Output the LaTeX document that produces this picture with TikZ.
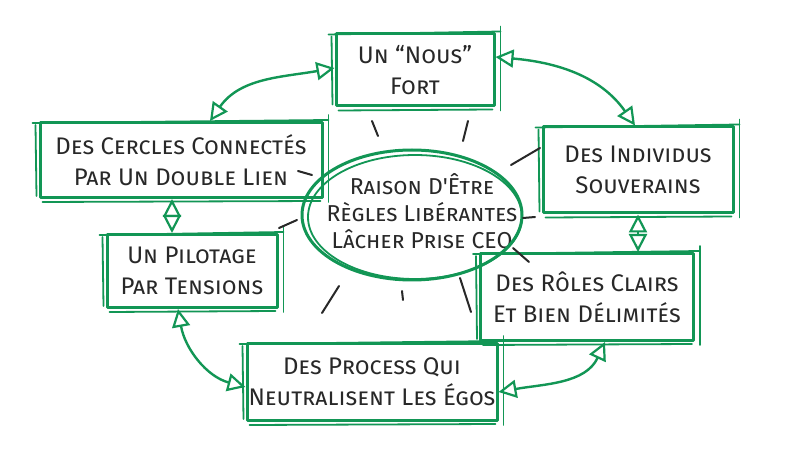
\documentclass[tikz,border=0pt]{standalone}
\usepackage{fontspec}
\newfontfamily\hand{Fira Sans}[Letters=SmallCaps]
\usetikzlibrary{arrows.meta,shapes.geometric,calc}
\definecolor{mkgreen}{RGB}{18,150,85}
\definecolor{ink}{RGB}{40,40,40}
\begin{document}
\begin{tikzpicture}[x=1pt,y=-1pt,
  mk/.style={draw=mkgreen, line width=3pt, line cap=round, line join=round},
  mkthin/.style={draw=mkgreen, line width=1.8pt, line cap=round},
  txt/.style={font=\hand\fontsize{24}{31}\selectfont, text=ink, align=center},
  box/.style={mk, rectangle, txt, inner sep=0pt,
    append after command={
      ([shift={(-6pt,-2pt)}]\tikzlastnode.north west) edge[mkthin] ([shift={(5pt,1pt)}]\tikzlastnode.north east)
      ([shift={(5pt,6pt)}]\tikzlastnode.north east) edge[mkthin] ([shift={(5pt,-3pt)}]\tikzlastnode.south east)
      ([shift={(4pt,-3pt)}]\tikzlastnode.south west) edge[mkthin] ([shift={(-3pt,-2pt)}]\tikzlastnode.south east)
      ([shift={(-3pt,-4pt)}]\tikzlastnode.north west) edge[mkthin] ([shift={(-2pt,3pt)}]\tikzlastnode.south west)
    }},
  arr/.style={draw=mkgreen, line width=2.4pt,
    arrows={Triangle[open,length=18pt,width=18pt,line width=2.2pt]-Triangle[open,length=18pt,width=18pt,line width=2.2pt]}},
  ray/.style={draw=ink, line width=2pt, line cap=round}
]
\useasboundingbox[fill=white] (0,0) rectangle (800,454);

% center ellipse
\node[txt, inner sep=0pt, font=\hand\fontsize{23}{27}\selectfont] (core) at (422,211)
  {Raison D'Être\\Règles Libérantes\\Lâcher Prise CEO};
\draw[mk] ([shift={(-10pt,-4pt)}]core.center) ellipse[x radius=110pt, y radius=65pt];
\draw[mkthin] ([shift={(-7pt,-6pt)}]core.center) ellipse[x radius=107pt, y radius=62pt];

% boxes
\node[box, minimum width=158pt, minimum height=72pt] (nous) at (415,70) {Un “Nous”\\Fort};
\node[box, minimum width=282pt, minimum height=75pt] (cercles) at (181,160) {Des Cercles Connectés\\Par Un Double Lien};
\node[box, minimum width=190pt, minimum height=86pt] (indiv) at (638,170) {Des Individus\\Souverains};
\node[box, minimum width=170pt, minimum height=73pt] (pilot) at (192,271) {Un Pilotage\\Par Tensions};
\node[box, minimum width=213pt, minimum height=87pt] (roles) at (587,297) {Des Rôles Clairs\\Et Bien Délimités};
\node[box, minimum width=250pt, minimum height=77pt] (process) at (372,382) {Des Process Qui\\Neutralisent Les Égos};

% arrows
\draw[arr] ([xshift=29pt]cercles.north) to[out=55,in=190] ([yshift=2pt]nous.west);
\draw[arr] ([yshift=13pt]nous.east) to[out=-5,in=125] ([xshift=-3pt]indiv.north);
\draw[arr] (indiv.south) -- ([xshift=51pt]roles.north);
\draw[arr] ([xshift=18pt]roles.south) to[out=-115,in=10] ([yshift=-10pt]process.east);
\draw[arr] ([xshift=-14pt]pilot.south) to[out=-80,in=165] ([yshift=-5pt]process.west);
\draw[arr] ([xshift=-20pt]pilot.north) -- ([xshift=-9pt]cercles.south);

% rays
\draw[ray] (372,121) -- (378,136);
\draw[ray] (468,121) -- (463,141);
\draw[ray] (511,165) -- (540,148);
\draw[ray] (298,171) -- (312,175);
\draw[ray] (279,228) -- (297,220);
\draw[ray] (523,218) -- (535,217);
\draw[ray] (513,248) -- (529,262);
\draw[ray] (339,286) -- (322,313);
\draw[ray] (402,291) -- (403,300);
\draw[ray] (460,278) -- (471,312);
\end{tikzpicture}
\end{document}
